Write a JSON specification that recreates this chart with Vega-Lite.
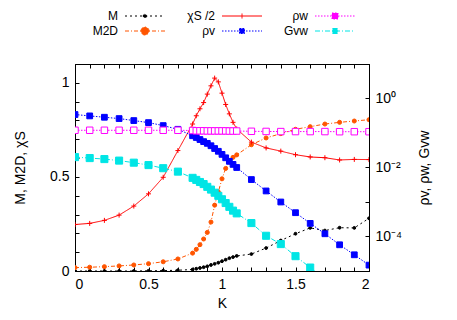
{
 "$schema": "https://vega.github.io/schema/vega-lite/v6.json",
 "width": 294, "height": 207,
 "autosize": {"type": "none"},
 "padding": {"left": 75, "top": 64, "right": 88, "bottom": 49},
 "config": {
  "font": "Liberation Sans",
  "view": {"stroke": "#000", "strokeWidth": 1},
  "axis": {"grid": false, "domainColor": "#000", "tickColor": "#000", "labelColor": "#000", "titleColor": "#000",
           "labelFontSize": 14, "titleFontSize": 14, "titleFontWeight": "normal", "tickSize": -4,
           "labelFont": "Liberation Sans", "titleFont": "Liberation Sans"}
 },
 "datasets": {
  "d": [
   {"K":0,"s":"M","v":0},{"K":0.1,"s":"M","v":0},{"K":0.2,"s":"M","v":0},{"K":0.3,"s":"M","v":0},{"K":0.4,"s":"M","v":0},{"K":0.5,"s":"M","v":0.001},{"K":0.6,"s":"M","v":0.002},{"K":0.7,"s":"M","v":0.004},{"K":0.8,"s":"M","v":0.008},{"K":0.825,"s":"M","v":0.012},{"K":0.85,"s":"M","v":0.016},{"K":0.875,"s":"M","v":0.02},{"K":0.9,"s":"M","v":0.025},{"K":0.925,"s":"M","v":0.032},{"K":0.95,"s":"M","v":0.038},{"K":0.975,"s":"M","v":0.044},{"K":1,"s":"M","v":0.052},{"K":1.025,"s":"M","v":0.06},{"K":1.05,"s":"M","v":0.068},{"K":1.075,"s":"M","v":0.074},{"K":1.1,"s":"M","v":0.08},{"K":1.2,"s":"M","v":0.09},{"K":1.3,"s":"M","v":0.122},{"K":1.4,"s":"M","v":0.162},{"K":1.5,"s":"M","v":0.198},{"K":1.6,"s":"M","v":0.229},{"K":1.7,"s":"M","v":0.215},{"K":1.8,"s":"M","v":0.23},{"K":1.9,"s":"M","v":0.229},{"K":2,"s":"M","v":0.28},
   {"K":0,"s":"M2D","v":0.018},{"K":0.1,"s":"M2D","v":0.02},{"K":0.2,"s":"M2D","v":0.023},{"K":0.3,"s":"M2D","v":0.027},{"K":0.4,"s":"M2D","v":0.032},{"K":0.5,"s":"M2D","v":0.039},{"K":0.6,"s":"M2D","v":0.049},{"K":0.7,"s":"M2D","v":0.064},{"K":0.8,"s":"M2D","v":0.095},{"K":0.825,"s":"M2D","v":0.115},{"K":0.85,"s":"M2D","v":0.14},{"K":0.875,"s":"M2D","v":0.17},{"K":0.9,"s":"M2D","v":0.205},{"K":0.925,"s":"M2D","v":0.26},{"K":0.95,"s":"M2D","v":0.35},{"K":0.975,"s":"M2D","v":0.42},{"K":1,"s":"M2D","v":0.49},{"K":1.025,"s":"M2D","v":0.545},{"K":1.05,"s":"M2D","v":0.58},{"K":1.075,"s":"M2D","v":0.604},{"K":1.1,"s":"M2D","v":0.617},{"K":1.2,"s":"M2D","v":0.671},{"K":1.3,"s":"M2D","v":0.707},{"K":1.4,"s":"M2D","v":0.73},{"K":1.5,"s":"M2D","v":0.753},{"K":1.6,"s":"M2D","v":0.767},{"K":1.7,"s":"M2D","v":0.781},{"K":1.8,"s":"M2D","v":0.79},{"K":1.9,"s":"M2D","v":0.797},{"K":2,"s":"M2D","v":0.804},
   {"K":0,"s":"χS /2","v":0.247},{"K":0.1,"s":"χS /2","v":0.253},{"K":0.2,"s":"χS /2","v":0.269},{"K":0.3,"s":"χS /2","v":0.297},{"K":0.4,"s":"χS /2","v":0.345},{"K":0.5,"s":"χS /2","v":0.41},{"K":0.6,"s":"χS /2","v":0.498},{"K":0.7,"s":"χS /2","v":0.64},{"K":0.8,"s":"χS /2","v":0.781},{"K":0.825,"s":"χS /2","v":0.825},{"K":0.85,"s":"χS /2","v":0.862},{"K":0.875,"s":"χS /2","v":0.895},{"K":0.9,"s":"χS /2","v":0.94},{"K":0.925,"s":"χS /2","v":0.984},{"K":0.95,"s":"χS /2","v":1.025},{"K":0.975,"s":"χS /2","v":1.005},{"K":1,"s":"χS /2","v":0.945},{"K":1.025,"s":"χS /2","v":0.885},{"K":1.05,"s":"χS /2","v":0.835},{"K":1.075,"s":"χS /2","v":0.79},{"K":1.1,"s":"χS /2","v":0.755},{"K":1.2,"s":"χS /2","v":0.685},{"K":1.3,"s":"χS /2","v":0.654},{"K":1.4,"s":"χS /2","v":0.637},{"K":1.5,"s":"χS /2","v":0.618},{"K":1.6,"s":"χS /2","v":0.606},{"K":1.7,"s":"χS /2","v":0.602},{"K":1.8,"s":"χS /2","v":0.59},{"K":1.9,"s":"χS /2","v":0.593},{"K":2,"s":"χS /2","v":0.592},
   {"K":0,"s":"ρv","v":0.343},{"K":0.1,"s":"ρv","v":0.313},{"K":0.2,"s":"ρv","v":0.286},{"K":0.3,"s":"ρv","v":0.262},{"K":0.4,"s":"ρv","v":0.229},{"K":0.5,"s":"ρv","v":0.2},{"K":0.6,"s":"ρv","v":0.164},{"K":0.7,"s":"ρv","v":0.128},{"K":0.8,"s":"ρv","v":0.0832},{"K":0.825,"s":"ρv","v":0.0741},{"K":0.85,"s":"ρv","v":0.0646},{"K":0.875,"s":"ρv","v":0.0562},{"K":0.9,"s":"ρv","v":0.0501},{"K":0.925,"s":"ρv","v":0.0427},{"K":0.95,"s":"ρv","v":0.0355},{"K":0.975,"s":"ρv","v":0.0295},{"K":1,"s":"ρv","v":0.024},{"K":1.025,"s":"ρv","v":0.0191},{"K":1.05,"s":"ρv","v":0.0151},{"K":1.075,"s":"ρv","v":0.0123},{"K":1.1,"s":"ρv","v":0.01},{"K":1.2,"s":"ρv","v":0.00447},{"K":1.3,"s":"ρv","v":0.00209},{"K":1.4,"s":"ρv","v":0.001},{"K":1.5,"s":"ρv","v":0.00049},{"K":1.6,"s":"ρv","v":0.00024},{"K":1.7,"s":"ρv","v":0.00012},{"K":1.8,"s":"ρv","v":0.0000575},{"K":1.9,"s":"ρv","v":0.0000295},{"K":2,"s":"ρv","v":0.0000148},
   {"K":0,"s":"ρw","v":0.12},{"K":0.1,"s":"ρw","v":0.12},{"K":0.2,"s":"ρw","v":0.12},{"K":0.3,"s":"ρw","v":0.12},{"K":0.4,"s":"ρw","v":0.12},{"K":0.5,"s":"ρw","v":0.12},{"K":0.6,"s":"ρw","v":0.12},{"K":0.7,"s":"ρw","v":0.12},{"K":0.8,"s":"ρw","v":0.118},{"K":0.825,"s":"ρw","v":0.116},{"K":0.85,"s":"ρw","v":0.116},{"K":0.875,"s":"ρw","v":0.116},{"K":0.9,"s":"ρw","v":0.115},{"K":0.925,"s":"ρw","v":0.115},{"K":0.95,"s":"ρw","v":0.115},{"K":0.975,"s":"ρw","v":0.115},{"K":1,"s":"ρw","v":0.115},{"K":1.025,"s":"ρw","v":0.115},{"K":1.05,"s":"ρw","v":0.114},{"K":1.075,"s":"ρw","v":0.114},{"K":1.1,"s":"ρw","v":0.114},{"K":1.2,"s":"ρw","v":0.112},{"K":1.3,"s":"ρw","v":0.111},{"K":1.4,"s":"ρw","v":0.11},{"K":1.5,"s":"ρw","v":0.11},{"K":1.6,"s":"ρw","v":0.11},{"K":1.7,"s":"ρw","v":0.11},{"K":1.8,"s":"ρw","v":0.109},{"K":1.9,"s":"ρw","v":0.109},{"K":2,"s":"ρw","v":0.109},
   {"K":0,"s":"Gvw","v":0.02},{"K":0.1,"s":"Gvw","v":0.01875},{"K":0.2,"s":"Gvw","v":0.01754},{"K":0.3,"s":"Gvw","v":0.01585},{"K":0.4,"s":"Gvw","v":0.0138},{"K":0.5,"s":"Gvw","v":0.01175},{"K":0.6,"s":"Gvw","v":0.00955},{"K":0.7,"s":"Gvw","v":0.00759},{"K":0.8,"s":"Gvw","v":0.00501},{"K":0.825,"s":"Gvw","v":0.00437},{"K":0.85,"s":"Gvw","v":0.0038},{"K":0.875,"s":"Gvw","v":0.00331},{"K":0.9,"s":"Gvw","v":0.00275},{"K":0.925,"s":"Gvw","v":0.00229},{"K":0.95,"s":"Gvw","v":0.00186},{"K":0.975,"s":"Gvw","v":0.00151},{"K":1,"s":"Gvw","v":0.0012},{"K":1.025,"s":"Gvw","v":0.000933},{"K":1.05,"s":"Gvw","v":0.000724},{"K":1.075,"s":"Gvw","v":0.000562},{"K":1.1,"s":"Gvw","v":0.000468},{"K":1.2,"s":"Gvw","v":0.000245},{"K":1.3,"s":"Gvw","v":0.000105},{"K":1.4,"s":"Gvw","v":0.0000603},{"K":1.5,"s":"Gvw","v":0.0000269},{"K":1.6,"s":"Gvw","v":0.0000126},{"K":1.7,"s":"Gvw","v":0.0000056}
  ]
 },
 "data": {"name": "d"},
 "layer": [
  {
   "transform": [{"filter": {"field": "s", "oneOf": ["M", "M2D", "χS /2"]}}],
   "encoding": {
    "x": {"field": "K", "type": "quantitative",
          "scale": {"domain": [0, 2], "nice": false, "zero": false},
          "axis": {"orient": "bottom", "title": "K", "values": [0,0.1,0.2,0.3,0.4,0.5,0.6,0.7,0.8,0.9,1,1.1,1.2,1.3,1.4,1.5,1.6,1.7,1.8,1.9,2],
                   "labelExpr": "(datum.value==0||datum.value==0.5||datum.value==1||datum.value==1.5||datum.value==2) ? format(datum.value,'~g') : ''",
                   "labelPadding": 10, "titlePadding": 5}},
    "y": {"field": "v", "type": "quantitative",
          "scale": {"domain": [0, 1.1], "nice": false},
          "axis": {"orient": "left", "title": "M, M2D, χS", "values": [0,0.1,0.2,0.3,0.4,0.5,0.6,0.7,0.8,0.9,1,1.1],
                   "labelExpr": "(datum.value==0||datum.value==0.5||datum.value==1) ? format(datum.value,'~g') : ''",
                   "labelPadding": 10, "titlePadding": 22}}
   },
   "layer": [
    {"mark": {"type": "line", "strokeWidth": 1, "clip": true},
     "encoding": {
      "color": {"field": "s", "type": "nominal",
                "scale": {"domain": ["M", "χS /2", "ρw", "M2D", "ρv", "Gvw"], "range": ["#000000", "#ff0000", "#ff00ff", "#ff5500", "#0000ff", "#00e5e5"]},
                "legend": {"orient": "none", "legendX": 64, "legendY": -54, "columns": 3, "title": null, "direction": "horizontal",
                           "symbolSize": 100, "labelFontSize": 12, "labelAlign": "right", "labelOffset": -33, "columnPadding": 20, "rowPadding": 3,
                           "encode": {"symbols": {"update": {
                             "shape": {"signal": "datum.value==='M' ? 'M-4,0H4M-0.36,0A0.36,0.36,0,1,1,0.36,0A0.36,0.36,0,1,1,-0.36,0' : datum.value==='M2D' ? 'M-4,0H4M-0.8,0A0.8,0.8,0,1,1,0.8,0A0.8,0.8,0,1,1,-0.8,0' : datum.value==='χS /2' ? 'M-4,0H4M0,-0.5V0.5' : datum.value==='ρw' ? 'M-4,0H-0.6M0.6,0H4M-0.6,-0.6H0.6V0.6H-0.6Z' : 'M-4,0H4M-0.5,-0.5H0.5V0.5H-0.5Z'"},
                             "size": {"value": 100},
                             "strokeWidth": {"value": 1},
                             "opacity": {"value": 1}
                           }}}}},
      "strokeDash": {"field": "s", "type": "nominal",
                "scale": {"domain": ["M", "χS /2", "ρw", "M2D", "ρv", "Gvw"], "range": [[2,3],[1,0],[1.5,1.5],[4,2,1,2],[1.5,1.5],[5,2,1,2]]}, "legend": null}
     }},
    {"mark": {"type": "point", "filled": true, "strokeWidth": 1, "opacity": 1, "clip": true},
     "encoding": {
      "color": {"field": "s", "type": "nominal"},
      "stroke": {"field": "s", "type": "nominal", "scale": {"domain": ["M", "M2D", "χS /2", "ρv", "ρw", "Gvw"], "range": ["#000000", "#ff5500", "#ff0000", "#0000ff", "#ff00ff", "#00e5e5"]}, "legend": null},
      "shape": {"field": "s", "type": "nominal", "scale": {"domain": ["M", "M2D", "χS /2", "ρv", "ρw", "Gvw"], "range": ["circle", "circle", "M-1,0H1M0,-1V1", "square", "square", "square"]}, "legend": null},
      "size": {"field": "s", "type": "nominal", "scale": {"domain": ["M", "M2D", "χS /2", "ρv", "ρw", "Gvw"], "range": [8, 50, 25, 14, 24, 14]}, "legend": null}
     }}
   ]
  },
  {
   "transform": [{"filter": {"field": "s", "oneOf": ["ρv", "ρw", "Gvw"]}}],
   "encoding": {
    "x": {"field": "K", "type": "quantitative",
          "scale": {"domain": [0, 2], "nice": false, "zero": false},
          "axis": {"orient": "top", "title": null, "labels": false, "domain": false, "values": [0,0.1,0.2,0.3,0.4,0.5,0.6,0.7,0.8,0.9,1,1.1,1.2,1.3,1.4,1.5,1.6,1.7,1.8,1.9,2]}},
    "y": {"field": "v", "type": "quantitative",
          "scale": {"type": "log", "domain": [0.00001, 10], "nice": false},
          "axis": {"orient": "right", "title": "ρv, ρw, Gvw", "titleAngle": 270, "values": [0.00001,0.0001,0.001,0.01,0.1,1,10],
                   "labelExpr": "round(log(datum.value)/LN10)==0 ? '10⁰' : round(log(datum.value)/LN10)==-2 ? '10⁻²' : round(log(datum.value)/LN10)==-4 ? '10⁻⁴' : ''",
                   "labelPadding": 10, "titlePadding": 30}}
   },
   "layer": [
    {"mark": {"type": "line", "strokeWidth": 1, "clip": true},
     "encoding": {
      "color": {"field": "s", "type": "nominal"},
      "strokeDash": {"field": "s", "type": "nominal", "legend": null}
     }},
    {"mark": {"type": "point", "filled": true, "strokeWidth": 1, "opacity": 1, "clip": true},
     "encoding": {
      "color": {"field": "s", "type": "nominal"},
      "fill": {"condition": {"test": "datum.s === 'ρw'", "value": "white"}, "field": "s", "type": "nominal", "scale": {"domain": ["M", "M2D", "χS /2", "ρv", "ρw", "Gvw"], "range": ["#000000", "#ff5500", "#ff0000", "#0000ff", "#ff00ff", "#00e5e5"]}, "legend": null},
      "stroke": {"field": "s", "type": "nominal", "legend": null},
      "shape": {"field": "s", "type": "nominal", "legend": null},
      "size": {"field": "s", "type": "nominal", "legend": null}
     }}
   ]
  }
 ],
 "resolve": {"scale": {"y": "independent"}, "axis": {"x": "independent"}}
}
